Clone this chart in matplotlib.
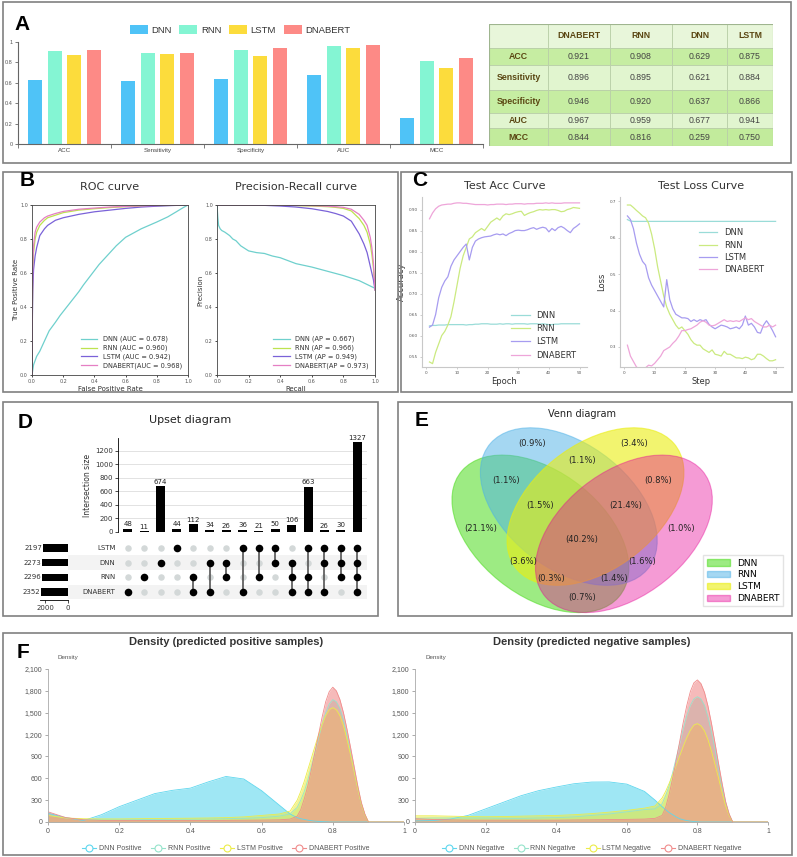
import matplotlib.pyplot as plt
import numpy as np
from matplotlib.patches import Rectangle, Ellipse, Patch
from matplotlib.lines import Line2D
from matplotlib.ticker import FuncFormatter

W, H = 797, 857

def box(l, t, r, b):
    return [l / W, 1 - b / H, (r - l) / W, (b - t) / H]

# ---------------- data ----------------
models = ['DNN', 'RNN', 'LSTM', 'DNABERT']
metrics = ['ACC', 'Sensitivity', 'Specificity', 'AUC', 'MCC']
dnn_scores = [0.629, 0.621, 0.637, 0.677, 0.259]
rnn_scores = [0.908, 0.895, 0.920, 0.959, 0.816]
lstm_scores = [0.875, 0.884, 0.866, 0.941, 0.750]
dnabert_scores = [0.921, 0.896, 0.946, 0.967, 0.844]
table_cols = ['DNABERT', 'RNN', 'DNN', 'LSTM']

roc_dnn_fpr = [0, 0.01, 0.03, 0.05, 0.08, 0.11, 0.15, 0.18, 0.24, 0.3, 0.33, 0.38, 0.43, 0.48, 0.54, 0.6, 0.7, 0.8, 0.87, 0.925, 0.97, 1.0]
roc_dnn_tpr = [0, 0.06, 0.11, 0.14, 0.2, 0.26, 0.31, 0.35, 0.42, 0.49, 0.53, 0.59, 0.65, 0.7, 0.76, 0.81, 0.86, 0.9, 0.93, 0.96, 0.985, 1.0]
roc_fpr = [0, 0.002, 0.005, 0.01, 0.02, 0.03, 0.05, 0.08, 0.1, 0.15, 0.2, 0.3, 0.4, 0.5, 0.6, 0.7, 0.8, 0.9, 1.0]
roc_rnn_tpr = [0, 0.35, 0.6, 0.72, 0.8, 0.84, 0.88, 0.91, 0.925, 0.94, 0.955, 0.97, 0.978, 0.985, 0.99, 0.993, 0.996, 0.998, 1.0]
roc_lstm_tpr = [0, 0.3, 0.5, 0.62, 0.7, 0.75, 0.82, 0.86, 0.88, 0.91, 0.925, 0.945, 0.96, 0.97, 0.98, 0.988, 0.993, 0.997, 1.0]
roc_dnabert_tpr = [0, 0.4, 0.65, 0.76, 0.84, 0.87, 0.9, 0.925, 0.935, 0.95, 0.962, 0.975, 0.982, 0.988, 0.992, 0.995, 0.997, 0.999, 1.0]

pr_dnn_rec = [0, 0.005, 0.01, 0.02, 0.03, 0.05, 0.08, 0.1, 0.12, 0.15, 0.2, 0.25, 0.3, 0.35, 0.4, 0.5, 0.6, 0.7, 0.8, 0.9, 1.0]
pr_dnn_prec = [1.0, 0.93, 0.88, 0.86, 0.85, 0.84, 0.82, 0.8, 0.79, 0.76, 0.73, 0.72, 0.715, 0.7, 0.69, 0.655, 0.635, 0.61, 0.585, 0.555, 0.51]
pr_rec = [0, 0.1, 0.2, 0.3, 0.4, 0.5, 0.6, 0.7, 0.75, 0.8, 0.85, 0.9, 0.93, 0.95, 0.97, 0.98, 0.99, 1.0]
pr_rnn_prec = [1, 1, 1, 1, 0.998, 0.996, 0.994, 0.99, 0.986, 0.98, 0.965, 0.92, 0.88, 0.84, 0.77, 0.71, 0.63, 0.5]
pr_lstm_prec = [1, 1, 1, 0.998, 0.994, 0.988, 0.978, 0.962, 0.95, 0.935, 0.905, 0.83, 0.77, 0.72, 0.64, 0.6, 0.56, 0.5]
pr_dnabert_prec = [1, 1, 1, 1, 0.999, 0.998, 0.996, 0.993, 0.99, 0.986, 0.975, 0.945, 0.91, 0.88, 0.81, 0.75, 0.66, 0.5]

epochs = list(range(1, 51))
dnn_acc = [0.623, 0.624, 0.624, 0.625, 0.625, 0.625, 0.626, 0.626, 0.626, 0.626, 0.626, 0.626, 0.625, 0.626, 0.626, 0.627, 0.627, 0.628, 0.628, 0.628, 0.627, 0.627, 0.627, 0.628, 0.627, 0.628, 0.628, 0.627, 0.628, 0.628, 0.628, 0.628, 0.627, 0.628, 0.628, 0.628, 0.627, 0.628, 0.627, 0.626, 0.626, 0.627, 0.627, 0.628, 0.628, 0.628, 0.628, 0.628, 0.628, 0.628]
rnn_acc = [0.537, 0.533, 0.56, 0.58, 0.60, 0.61, 0.625, 0.645, 0.68, 0.72, 0.76, 0.79, 0.81, 0.83, 0.835, 0.845, 0.85, 0.855, 0.85, 0.86, 0.87, 0.875, 0.88, 0.875, 0.885, 0.89, 0.888, 0.89, 0.893, 0.895, 0.896, 0.886, 0.89, 0.893, 0.895, 0.898, 0.9, 0.899, 0.9, 0.899, 0.9, 0.9, 0.898, 0.895, 0.896, 0.9, 0.902, 0.905, 0.904, 0.903]
lstm_acc = [0.62, 0.625, 0.65, 0.69, 0.715, 0.73, 0.74, 0.765, 0.78, 0.79, 0.80, 0.81, 0.818, 0.78, 0.81, 0.825, 0.83, 0.833, 0.835, 0.836, 0.837, 0.84, 0.842, 0.84, 0.842, 0.838, 0.843, 0.846, 0.85, 0.851, 0.85, 0.85, 0.852, 0.855, 0.857, 0.853, 0.856, 0.858, 0.856, 0.847, 0.855, 0.85, 0.857, 0.86, 0.856, 0.85, 0.845, 0.855, 0.86, 0.866]
dnabert_acc = [0.878, 0.892, 0.902, 0.908, 0.911, 0.912, 0.913, 0.913, 0.915, 0.916, 0.916, 0.915, 0.915, 0.914, 0.913, 0.912, 0.912, 0.912, 0.912, 0.911, 0.912, 0.912, 0.913, 0.913, 0.913, 0.912, 0.913, 0.913, 0.914, 0.914, 0.914, 0.913, 0.914, 0.914, 0.914, 0.915, 0.915, 0.915, 0.916, 0.915, 0.916, 0.915, 0.915, 0.915, 0.916, 0.916, 0.916, 0.916, 0.916, 0.916]

dnn_loss = [0.650, 0.646, 0.645, 0.645, 0.645, 0.645, 0.645, 0.645, 0.645, 0.645, 0.645, 0.645, 0.645, 0.645, 0.645, 0.645, 0.645, 0.645, 0.645, 0.645, 0.645, 0.645, 0.645, 0.645, 0.645, 0.645, 0.645, 0.645, 0.645, 0.645, 0.645, 0.645, 0.645, 0.645, 0.645, 0.645, 0.645, 0.645, 0.645, 0.645, 0.645, 0.645, 0.645, 0.645, 0.645, 0.645, 0.645, 0.645, 0.645, 0.645]
rnn_loss = [0.69, 0.69, 0.683, 0.675, 0.668, 0.66, 0.655, 0.64, 0.61, 0.57, 0.52, 0.48, 0.44, 0.41, 0.39, 0.375, 0.36, 0.35, 0.355, 0.345, 0.335, 0.32, 0.31, 0.305, 0.305, 0.295, 0.29, 0.285, 0.292, 0.28, 0.278, 0.275, 0.288, 0.28, 0.28, 0.275, 0.27, 0.27, 0.268, 0.272, 0.27, 0.265, 0.268, 0.28, 0.28, 0.275, 0.268, 0.262, 0.262, 0.265]
lstm_loss = [0.66, 0.65, 0.625, 0.585, 0.555, 0.535, 0.525, 0.49, 0.47, 0.455, 0.44, 0.425, 0.41, 0.485, 0.43, 0.405, 0.39, 0.385, 0.38, 0.38, 0.378, 0.37, 0.375, 0.37, 0.375, 0.372, 0.375, 0.362, 0.355, 0.35, 0.355, 0.36, 0.358, 0.355, 0.35, 0.352, 0.355, 0.35, 0.36, 0.385, 0.36, 0.365, 0.355, 0.34, 0.338, 0.36, 0.372, 0.36, 0.345, 0.328]
dnabert_loss = [0.305, 0.275, 0.26, 0.245, 0.24, 0.24, 0.243, 0.25, 0.248, 0.255, 0.265, 0.275, 0.29, 0.295, 0.3, 0.31, 0.318, 0.33, 0.345, 0.345, 0.348, 0.35, 0.355, 0.36, 0.368, 0.372, 0.368, 0.36, 0.358, 0.36, 0.365, 0.37, 0.375, 0.37, 0.372, 0.37, 0.372, 0.37, 0.375, 0.38, 0.375, 0.378, 0.37, 0.365, 0.36, 0.355, 0.355, 0.36, 0.355, 0.36]

upset_counts = [48, 11, 674, 44, 112, 34, 26, 36, 21, 50, 106, 663, 26, 30, 1327]
upset_members = [['DNABERT'], ['RNN'], ['DNN'], ['LSTM'], ['RNN', 'DNABERT'], ['DNN', 'DNABERT'],
                 ['DNN', 'RNN'], ['LSTM', 'DNABERT'], ['LSTM', 'RNN'], ['LSTM', 'DNN'],
                 ['DNN', 'RNN', 'DNABERT'], ['LSTM', 'RNN', 'DNABERT'], ['LSTM', 'DNN', 'DNABERT'],
                 ['LSTM', 'DNN', 'RNN'], ['LSTM', 'DNN', 'RNN', 'DNABERT']]
upset_rows = ['DNABERT', 'RNN', 'DNN', 'LSTM']
set_totals = [2352, 2296, 2273, 2197]

venn_labels = ['(21.1%)', '(0.9%)', '(3.4%)', '(1.0%)', '(1.1%)', '(1.1%)', '(0.8%)', '(1.5%)',
               '(21.4%)', '(40.2%)', '(3.6%)', '(1.6%)', '(0.3%)', '(1.4%)', '(0.7%)']
venn_label_pos = [(0.14, 0.42), (0.32, 0.73), (0.68, 0.73), (0.845, 0.42), (0.496, 0.67), (0.229, 0.597),
                  (0.766, 0.597), (0.349, 0.505), (0.649, 0.505), (0.496, 0.381), (0.288, 0.30),
                  (0.708, 0.30), (0.388, 0.237), (0.608, 0.237), (0.496, 0.166)]

dens_x = [0, 0.05, 0.1, 0.15, 0.2, 0.25, 0.3, 0.35, 0.4, 0.45, 0.5, 0.55, 0.6, 0.65, 0.68, 0.7, 0.71, 0.72, 0.73, 0.74, 0.75, 0.76, 0.77, 0.78, 0.79, 0.8, 0.81, 0.82, 0.83, 0.84, 0.85, 0.86, 0.87, 0.88, 0.89, 0.9, 0.95, 1.0]
pos_dnn = [120, 60, 20, 100, 210, 300, 390, 435, 465, 550, 625, 590, 430, 230, 110, 60, 45, 35, 25, 18, 12, 8, 5, 3, 1, 0, 0, 0, 0, 0, 0, 0, 0, 0, 0, 0, 0, 0]
pos_rnn = [100, 55, 35, 30, 30, 32, 35, 38, 40, 42, 45, 50, 60, 80, 110, 200, 300, 420, 580, 760, 950, 1150, 1340, 1500, 1620, 1680, 1650, 1560, 1400, 1180, 950, 700, 460, 250, 100, 0, 0, 0]
pos_lstm = [90, 55, 45, 42, 42, 45, 48, 50, 52, 55, 60, 70, 90, 110, 150, 300, 420, 560, 720, 880, 1040, 1200, 1340, 1460, 1540, 1570, 1540, 1460, 1320, 1130, 920, 690, 460, 250, 100, 0, 0, 0]
pos_dnabert = [140, 60, 30, 22, 20, 20, 20, 20, 20, 20, 22, 24, 26, 30, 40, 80, 170, 320, 500, 720, 960, 1200, 1440, 1650, 1790, 1850, 1800, 1680, 1500, 1270, 1020, 760, 500, 270, 110, 0, 0, 0]
neg_dnn = [15, 20, 40, 90, 180, 270, 360, 430, 480, 525, 548, 550, 520, 420, 300, 210, 170, 130, 100, 70, 45, 30, 20, 12, 6, 3, 0, 0, 0, 0, 0, 0, 0, 0, 0, 0, 0, 0]
neg_rnn = [50, 55, 55, 55, 55, 50, 50, 55, 60, 70, 90, 110, 140, 170, 180, 250, 360, 500, 680, 880, 1080, 1280, 1460, 1600, 1690, 1720, 1690, 1600, 1440, 1230, 990, 730, 480, 260, 100, 0, 0, 0]
neg_lstm = [85, 85, 80, 75, 72, 75, 80, 85, 90, 100, 115, 135, 160, 190, 220, 330, 420, 530, 650, 780, 910, 1040, 1160, 1260, 1330, 1350, 1320, 1250, 1130, 970, 790, 600, 400, 220, 90, 0, 0, 0]
neg_dnabert = [45, 35, 30, 25, 25, 25, 25, 25, 25, 28, 30, 33, 36, 40, 50, 90, 200, 380, 600, 850, 1110, 1370, 1600, 1790, 1910, 1950, 1900, 1780, 1590, 1350, 1080, 800, 530, 280, 110, 0, 0, 0]

# ---------------- figure ----------------
fig = plt.figure(figsize=(W / 100, H / 100), dpi=100)

for l, t, r, b in [(3, 2, 791, 163), (3, 172, 398, 392), (401, 172, 792, 392),
                   (3, 402, 378, 616), (398, 402, 792, 616), (3, 633, 792, 855)]:
    fig.add_artist(Rectangle((l / W, 1 - b / H), (r - l) / W, (b - t) / H, transform=fig.transFigure,
                             fill=False, ec='#808080', lw=1.2))

for letter, xx, yy in [('A', 22, 25), ('B', 27, 181), ('C', 420, 181), ('D', 25, 423), ('E', 422, 421), ('F', 23, 652)]:
    fig.text(xx / W, 1 - yy / H, letter, fontsize=15, fontweight='bold', ha='center', va='center',
             family='Liberation Sans')

# ---------- A: bars ----------
bar_colors = ['#4fc3f7', '#84f5d3', '#fcdc3c', '#fd8a86']
axA = fig.add_axes(box(18, 42, 483, 144))
xs = np.arange(len(metrics))
for i, vals in enumerate([dnn_scores, rnn_scores, lstm_scores, dnabert_scores]):
    axA.bar(xs + (i - 1.5) * 0.21, vals, width=0.155, color=bar_colors[i], label=models[i])
axA.set_xlim(-0.5, 4.5)
axA.set_ylim(0, 1)
for s in ['top', 'right']:
    axA.spines[s].set_visible(False)
for s in ['left', 'bottom']:
    axA.spines[s].set_color('#666')
    axA.spines[s].set_linewidth(0.8)
axA.set_yticks([0, 0.2, 0.4, 0.6, 0.8, 1.0])
axA.set_yticklabels(['0', '0.2', '0.4', '0.6', '0.8', '1'], fontsize=4, color='#555', family='Liberation Sans')
axA.set_xticks(xs)
axA.set_xticklabels(metrics, fontsize=4.5, color='#444', family='Liberation Sans')
axA.tick_params(axis='x', length=0, pad=3)
axA.tick_params(axis='y', length=2, width=0.6, color='#666', pad=2)
axA.set_xticks(np.arange(-0.5, 5, 1), minor=True)
axA.tick_params(axis='x', which='minor', length=3, width=0.6, color='#666')
axA.legend(loc='center', bbox_to_anchor=(240 / W, 1 - 30 / H), bbox_transform=fig.transFigure, ncol=4,
           frameon=False, prop={'family': 'Liberation Sans', 'size': 6.8}, handlelength=1.9, handleheight=1.1,
           columnspacing=0.8, handletextpad=0.4, labelcolor='#333')

# ---------- A: table ----------
axT = fig.add_axes(box(489, 24, 773, 146))
axT.set_xlim(489, 773)
axT.set_ylim(146, 24)
axT.axis('off')
col_edges = [489, 548, 610, 672, 727, 773]
row_edges = [24, 48, 65, 90, 113, 128, 146]
row_fill = ['#e8f6da', '#c6eda2', '#e1f5cf', '#c6eda2', '#e1f5cf', '#c2eb9c']
score_map = dict(zip(models, [dnn_scores, rnn_scores, lstm_scores, dnabert_scores]))
for ri in range(6):
    for ci in range(5):
        x0, x1 = col_edges[ci], col_edges[ci + 1]
        y0, y1 = row_edges[ri], row_edges[ri + 1]
        axT.add_patch(Rectangle((x0, y0), x1 - x0, y1 - y0, fc=row_fill[ri], ec='#b9cfa8', lw=0.6))
        if ri == 0 and ci == 0:
            continue
        if ri == 0:
            txt, bold, col = table_cols[ci - 1], True, '#5a4612'
        elif ci == 0:
            txt, bold, col = metrics[ri - 1], True, '#5a4612'
        else:
            txt, bold, col = '%.3f' % score_map[table_cols[ci - 1]][ri - 1], False, '#444'
        axT.text((x0 + x1) / 2, (y0 + y1) / 2, txt, ha='center', va='center', fontsize=6.3,
                 fontweight='bold' if bold else 'normal', color=col, family='Liberation Sans')
axT.add_patch(Rectangle((489, 24), 284, 122, fill=False, ec='#9fb58f', lw=0.8))

# ---------- B ----------
b_colors = ['#6fd0cd', '#bde34f', '#7a62d8', '#e57fc4']
axR = fig.add_axes(box(32, 205, 188, 375))
axP = fig.add_axes(box(217, 205, 375, 375))
axR.plot(roc_dnn_fpr, roc_dnn_tpr, color=b_colors[0], lw=0.9, label='DNN (AUC = 0.678)')
axR.plot(roc_fpr, roc_rnn_tpr, color=b_colors[1], lw=0.9, label='RNN (AUC = 0.960)')
axR.plot(roc_fpr, roc_lstm_tpr, color=b_colors[2], lw=0.9, label='LSTM (AUC = 0.942)')
axR.plot(roc_fpr, roc_dnabert_tpr, color=b_colors[3], lw=0.9, label='DNABERT(AUC = 0.968)')
axP.plot(pr_dnn_rec, pr_dnn_prec, color=b_colors[0], lw=0.9, label='DNN (AP = 0.667)')
axP.plot(pr_rec, pr_rnn_prec, color=b_colors[1], lw=0.9, label='RNN (AP = 0.966)')
axP.plot(pr_rec, pr_lstm_prec, color=b_colors[2], lw=0.9, label='LSTM (AP = 0.949)')
axP.plot(pr_rec, pr_dnabert_prec, color=b_colors[3], lw=0.9, label='DNABERT(AP = 0.973)')
for ax, title, xl, yl in [(axR, 'ROC curve', 'False Positive Rate', 'True Positive Rate'),
                          (axP, 'Precision-Recall curve', 'Recall', 'Precision')]:
    ax.set_xlim(0, 1)
    ax.set_ylim(0, 1)
    ticks = [0, 0.2, 0.4, 0.6, 0.8, 1.0]
    ax.set_xticks(ticks)
    ax.set_yticks(ticks)
    ax.tick_params(labelsize=3.5, length=1.5, width=0.5, pad=1.5, labelcolor='#555')
    ax.set_title(title, fontsize=8, color='#333', pad=11)
    ax.set_xlabel(xl, fontsize=5, color='#333', labelpad=1)
    ax.set_ylabel(yl, fontsize=5, color='#333', labelpad=1)
    for s in ax.spines.values():
        s.set_linewidth(0.6)
        s.set_color('#444')
    ax.legend(loc='lower right', frameon=False, fontsize=4.8, handlelength=2.5, labelspacing=0.35,
              labelcolor='#333')

# ---------- C ----------
c_colors = ['#9adcd8', '#cbea80', '#a79cf0', '#eea5d9']
axAcc = fig.add_axes(box(422, 197, 587, 367))
axLoss = fig.add_axes(box(620, 197, 783, 367))
for ax, series, title, xl, yl in [
        (axAcc, [dnn_acc, rnn_acc, lstm_acc, dnabert_acc], 'Test Acc Curve', 'Epoch', 'Accuracy'),
        (axLoss, [dnn_loss, rnn_loss, lstm_loss, dnabert_loss], 'Test Loss Curve', 'Step', 'Loss')]:
    for i, ys in enumerate(series):
        ax.plot(epochs, ys, color=c_colors[i], lw=0.9, label=models[i])
    ax.set_title(title, fontsize=8, color='#333', pad=6)
    ax.set_xlabel(xl, fontsize=6, color='#333', labelpad=1)
    ax.set_ylabel(yl, fontsize=6, color='#333', labelpad=2)
    ax.set_xticks([0, 10, 20, 30, 40, 50])
    ax.tick_params(labelsize=3, length=1.5, width=0.5, pad=1.5, labelcolor='#555', color='#bbb')
    for s in ['top', 'right']:
        ax.spines[s].set_visible(False)
    for s in ['left', 'bottom']:
        ax.spines[s].set_color('#c8c8c8')
        ax.spines[s].set_linewidth(0.8)
axAcc.set_ylim(0.525, 0.93)
axAcc.set_yticks([0.55, 0.6, 0.65, 0.7, 0.75, 0.8, 0.85, 0.9])
axAcc.yaxis.set_major_formatter(FuncFormatter(lambda v, p: '%.2f' % v))
axAcc.legend(loc='lower right', frameon=False, fontsize=6, handlelength=2.2, labelspacing=0.5,
             labelcolor='#333', bbox_to_anchor=(0.98, 0.0))
axLoss.set_ylim(0.245, 0.712)
axLoss.set_yticks([0.3, 0.4, 0.5, 0.6, 0.7])
axLoss.yaxis.set_major_formatter(FuncFormatter(lambda v, p: '%.1f' % v))
axLoss.legend(loc='center right', frameon=False, fontsize=6, handlelength=2.2, labelspacing=0.4,
              labelcolor='#333', bbox_to_anchor=(0.93, 0.68))

# ---------- D: upset ----------
fig.text(190 / W, 1 - 420 / H, 'Upset diagram', fontsize=8, color='#222', ha='center', va='center')
axU = fig.add_axes(box(118, 438, 367, 532))
cols = np.arange(len(upset_counts))
axU.bar(cols, upset_counts, width=0.55, color='black', zorder=3)
for c, v in zip(cols, upset_counts):
    axU.text(c, v + 25, str(v), ha='center', va='bottom', fontsize=5, color='#222', clip_on=False)
axU.set_xlim(-0.6, 14.6)
axU.set_ylim(0, 1390)
axU.set_yticks([0, 200, 400, 600, 800, 1000, 1200])
axU.tick_params(axis='y', labelsize=5, length=2, width=0.5, pad=1.5, labelcolor='#333')
axU.set_xticks([])
axU.grid(axis='y', color='#dddddd', lw=0.6, zorder=0)
for s in ['top', 'right', 'bottom']:
    axU.spines[s].set_visible(False)
axU.spines['left'].set_linewidth(0.6)
axU.set_ylabel('Intersection size', fontsize=5.5, color='#333', labelpad=2)

axM = fig.add_axes(box(118, 540, 367, 600))
axM.set_xlim(-0.6, 14.6)
axM.set_ylim(-0.55, 3.55)
axM.axis('off')
for ri in [0, 2]:
    axM.add_patch(Rectangle((-5.3, ri - 0.5), 19.9, 1.0, fc='#f3f3f3', ec='none', clip_on=False, zorder=0))
for ri, name in enumerate(upset_rows):
    axM.text(-0.75, ri, name, ha='right', va='center', fontsize=5, color='#333')
for c, mem in enumerate(upset_members):
    on = [upset_rows.index(m) for m in mem]
    off = [r for r in range(4) if r not in on]
    axM.scatter([c] * len(off), off, s=22, color='#d3d8d8', zorder=2, lw=0)
    axM.scatter([c] * len(on), on, s=30, color='black', zorder=3, lw=0)
    if len(on) > 1:
        axM.plot([c, c], [min(on), max(on)], color='#555', lw=1.2, zorder=2)

axS = fig.add_axes(box(40, 540, 68, 600))
axS.barh(range(4), set_totals, height=0.5, color='black')
axS.set_xlim(2435, 0)
axS.set_ylim(-0.55, 3.55)
axS.set_yticks([])
axS.set_xticks([2000, 0])
axS.tick_params(axis='x', labelsize=5, length=2, width=0.5, pad=1.5, labelcolor='#333')
for s in ['top', 'right', 'left']:
    axS.spines[s].set_visible(False)
axS.spines['bottom'].set_linewidth(0.6)
for ri, v in enumerate(set_totals):
    axS.text(v + 30, ri, str(v), ha='right', va='center', fontsize=5, color='#333', clip_on=False)

# ---------- E: venn ----------
venn_colors = [('#4ddc1e', 0.55), ('#4db1e7', 0.5), ('#eaee10', 0.6), ('#e60696', 0.4)]
axV = fig.add_axes(box(441, 402, 725, 616))
axV.set_xlim(0, 1)
axV.set_ylim(0.099, 0.883)
axV.axis('off')
for (cx, cy, ang), (fc, a) in zip([(0.35, 0.4, 140), (0.45, 0.5, 140), (0.544, 0.5, 40), (0.644, 0.4, 40)],
                                  venn_colors):
    axV.add_patch(Ellipse((cx, cy), 0.72, 0.45, angle=ang, color=fc, alpha=a, lw=0.8))
for lab, (px, py) in zip(venn_labels, venn_label_pos):
    axV.text(px, py, lab, ha='center', va='center', fontsize=6, color='#222')
fig.text(582 / W, 1 - 414 / H, 'Venn diagram', fontsize=7, color='#222', ha='center', va='center')
fig.legend(handles=[Patch(fc=fc, alpha=a, ec=fc, label=m) for (fc, a), m in zip(venn_colors, models)],
           loc='lower right', bbox_to_anchor=(788 / W, 1 - 611 / H), fontsize=6.5, frameon=True,
           fancybox=False, edgecolor='#dddddd', handlelength=2.6, labelspacing=0.3)

# ---------- F: density ----------
f_colors = ['#5fd7ee', '#95e3cb', '#ecec48', '#f08c8c']
for (l, r), series, title, suffix in [
        ((48, 404), [pos_dnn, pos_rnn, pos_lstm, pos_dnabert], 'Density (predicted positive samples)', 'Positive'),
        ((415, 768), [neg_dnn, neg_rnn, neg_lstm, neg_dnabert], 'Density (predicted negative samples)', 'Negative')]:
    ax = fig.add_axes(box(l, 669, r, 822))
    for i, ys in enumerate(series):
        ax.fill_between(dens_x, ys, color=f_colors[i], alpha=0.6, lw=0)
        ax.plot(dens_x, ys, color=f_colors[i], lw=0.6)
    ax.set_xlim(0, 1)
    ax.set_ylim(0, 2100)
    ax.set_yticks([0, 300, 600, 900, 1200, 1500, 1800, 2100])
    ax.yaxis.set_major_formatter(FuncFormatter(lambda v, p: '{:,}'.format(int(v))))
    ax.set_xticks([0, 0.2, 0.4, 0.6, 0.8, 1.0])
    ax.set_xticklabels(['0', '0.2', '0.4', '0.6', '0.8', '1'])
    for lab in ax.get_xticklabels() + ax.get_yticklabels():
        lab.set_family('Liberation Sans')
    ax.tick_params(labelsize=5, length=2, width=0.5, pad=2, labelcolor='#555', color='#888')
    for s in ['top', 'right']:
        ax.spines[s].set_visible(False)
    for s in ['left', 'bottom']:
        ax.spines[s].set_color('#aaa')
        ax.spines[s].set_linewidth(0.6)
    fig.text((l + r) / 2 / W, 1 - 642 / H, title, fontsize=8, fontweight='bold', color='#333',
             ha='center', va='center', family='Liberation Sans')
    fig.text((l + 10) / W, 1 - 657 / H, 'Density', fontsize=4.5, color='#555', ha='left', va='center',
             family='Liberation Sans')
    handles = [Line2D([0], [0], color=f_colors[i], lw=0.8, marker='o', markersize=5, markerfacecolor='white',
                      markeredgewidth=0.8, label='%s %s' % (m, suffix)) for i, m in enumerate(models)]
    fig.legend(handles=handles, loc='center', bbox_to_anchor=((l + r) / 2 / W, 1 - 849 / H), ncol=4,
               frameon=False, prop={'family': 'Liberation Sans', 'size': 5}, handlelength=2.0,
               columnspacing=1.4, handletextpad=0.4, labelcolor='#555')

fig.savefig('out.png', dpi=100)
